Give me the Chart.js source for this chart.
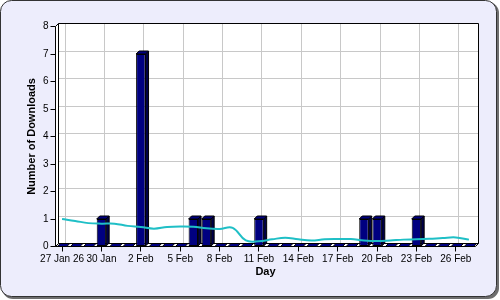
<!DOCTYPE html>
<html>
<head>
<meta charset="utf-8">
<script src="https://cdn.jsdelivr.net/npm/chart.js@4.4.1/dist/chart.umd.min.js"></script>
<style>
  html, body { margin: 0; padding: 0; background: #fff; }
  canvas { display: block; }
</style>
</head>
<body>
<canvas id="downloadsChart" width="500" height="300"></canvas>
<script>
// ===== DATA =====
const days = [
    '27 Jan', '28 Jan', '29 Jan', '30 Jan', '31 Jan',
    '1 Feb', '2 Feb', '3 Feb', '4 Feb', '5 Feb', '6 Feb', '7 Feb', '8 Feb', '9 Feb',
    '10 Feb', '11 Feb', '12 Feb', '13 Feb', '14 Feb', '15 Feb', '16 Feb', '17 Feb',
    '18 Feb', '19 Feb', '20 Feb', '21 Feb', '22 Feb', '23 Feb', '24 Feb', '25 Feb',
    '26 Feb', '27 Feb'
];
// shown on every 3rd day
const tickLabels = ['27 Jan 26', '30 Jan', '2 Feb', '5 Feb', '8 Feb', '11 Feb', '14 Feb', '17 Feb', '20 Feb', '23 Feb', '26 Feb'];
const downloads = [0, 0, 0, 1, 0, 0, 7, 0, 0, 0, 1, 1, 0, 0, 0, 1, 0, 0, 0, 0, 0, 0, 0, 1, 1, 0, 0, 1, 0, 0, 0, 0];
const trend = [1.0, 0.93, 0.85, 0.83, 0.83, 0.75, 0.71, 0.65, 0.71, 0.73, 0.72, 0.66, 0.64, 0.68, 0.22, 0.19,
               0.26, 0.32, 0.26, 0.22, 0.26, 0.27, 0.27, 0.22, 0.2, 0.22, 0.25, 0.26, 0.28, 0.31, 0.33, 0.25];
const yTicks = { min: 0, max: 8, step: 1 };

const DEPTH = 3;
const crisp = (v) => Math.round(v - 0.5) + 0.5;

// lavender rounded panel behind everything
const panelBg = {
    id: 'panelBg',
    beforeDraw(chart) {
        const ctx = chart.ctx;
        ctx.save();
        ctx.fillStyle = '#fff';
        ctx.fillRect(0, 0, chart.width, chart.height);
        ctx.beginPath();
        ctx.roundRect(2, 2, 497, 297, 11);
        ctx.fillStyle = '#6e6e6e';
        ctx.fill();
        ctx.beginPath();
        ctx.roundRect(0.5, 0.5, 496, 296, 11);
        ctx.fillStyle = '#ededfc';
        ctx.fill();
        ctx.strokeStyle = '#333';
        ctx.lineWidth = 1;
        ctx.stroke();
        ctx.restore();
    }
};

// 3D back wall, side wall and grid
const walls = {
    id: 'walls',
    beforeDatasetsDraw(chart) {
        const { ctx, chartArea: a, scales: { x, y } } = chart;
        const d = DEPTH;
        ctx.save();
        ctx.fillStyle = '#fff';
        ctx.beginPath();
        ctx.moveTo(a.left, a.bottom);
        ctx.lineTo(a.left, a.top);
        ctx.lineTo(a.left + d, a.top - d);
        ctx.lineTo(a.right + d, a.top - d);
        ctx.lineTo(a.right + d, a.bottom - d);
        ctx.lineTo(a.right, a.bottom);
        ctx.closePath();
        ctx.fill();

        // grid on back wall
        ctx.strokeStyle = '#c8c8c8';
        ctx.lineWidth = 1;
        ctx.beginPath();
        y.ticks.forEach((t, i) => {
            const py = crisp(y.getPixelForTick(i) - d);
            ctx.moveTo(a.left + d, py);
            ctx.lineTo(a.right + d, py);
        });
        x.ticks.forEach((t, i) => {
            if (i % 3) return;
            const px = crisp(x.getPixelForTick(i) + d);
            ctx.moveTo(px, a.top - d);
            ctx.lineTo(px, a.bottom - d);
        });
        ctx.stroke();

        // outline
        ctx.strokeStyle = '#000';
        ctx.beginPath();
        ctx.moveTo(a.left, a.bottom);
        ctx.lineTo(a.left, a.top);
        ctx.lineTo(a.left + d, a.top - d);
        ctx.lineTo(a.right + d, a.top - d);
        ctx.lineTo(a.right + d, a.bottom - d);
        ctx.lineTo(a.right, a.bottom);
        ctx.lineTo(a.left, a.bottom);
        ctx.moveTo(a.left + d, a.top - d);
        ctx.lineTo(a.left + d, a.bottom - d);
        ctx.lineTo(a.right + d, a.bottom - d);
        ctx.moveTo(a.left, a.bottom);
        ctx.lineTo(a.left + d, a.bottom - d);
        ctx.stroke();
        ctx.restore();
    }
};

// top + side faces for each bar
const barFaces = {
    id: 'barFaces',
    afterDatasetDraw(chart, args) {
        if (args.meta.type !== 'bar') return;
        const ctx = chart.ctx;
        const d = DEPTH;
        ctx.save();
        ctx.strokeStyle = '#000';
        ctx.lineWidth = 1;
        ctx.lineJoin = 'round';
        args.meta.data.forEach((bar) => {
            const { x, y, base, width } = bar.getProps(['x', 'y', 'base', 'width'], true);
            const l = x - width / 2, r = x + width / 2;
            if (base - y > 1) {
                ctx.beginPath();
                ctx.moveTo(r, y);
                ctx.lineTo(r + d, y - d);
                ctx.lineTo(r + d, base - d);
                ctx.lineTo(r, base);
                ctx.closePath();
                ctx.fillStyle = '#000048';
                ctx.fill();
                ctx.stroke();
            }
            ctx.beginPath();
            ctx.moveTo(l, y);
            ctx.lineTo(l + d, y - d);
            ctx.lineTo(r + d, y - d);
            ctx.lineTo(r, y);
            ctx.closePath();
            ctx.fillStyle = '#000080';
            ctx.fill();
            ctx.stroke();
        });
        ctx.restore();
    }
};

const tickFont = { family: 'Arial, "Liberation Sans", sans-serif', size: 10 };
const titleFont = { family: 'Arial, "Liberation Sans", sans-serif', size: 11, weight: 'bold' };

new Chart(document.getElementById('downloadsChart'), {
    data: {
        labels: days,
        datasets: [
            {
                type: 'line',
                label: 'Trend',
                data: trend,
                borderColor: '#1fbfc6',
                borderWidth: 2,
                tension: 0.4,
                pointRadius: 0,
                fill: false
            },
            {
                type: 'bar',
                label: 'Downloads',
                data: downloads,
                backgroundColor: '#000080',
                borderColor: '#000',
                borderWidth: 1,
                borderSkipped: false,
                barPercentage: 0.72,
                categoryPercentage: 1
            }
        ]
    },
    options: {
        responsive: false,
        animation: false,
        devicePixelRatio: 1,
        layout: { padding: { left: 0, right: 24.5, top: 26.5, bottom: 0 } },
        plugins: {
            legend: { display: false },
            tooltip: { enabled: false }
        },
        scales: {
            x: {
                type: 'category',
                offset: true,
                grid: {
                    offset: false,
                    drawOnChartArea: false,
                    drawTicks: true,
                    tickLength: 5,
                    tickColor: (c) => (c.index % 3 === 0 ? '#000' : 'rgba(0,0,0,0)')
                },
                border: { display: false },
                ticks: {
                    autoSkip: false,
                    maxRotation: 0,
                    minRotation: 0,
                    padding: 2,
                    color: '#000',
                    font: tickFont,
                    callback: (v, i) => (i % 3 === 0 ? tickLabels[i / 3] : '')
                },
                title: {
                    display: true,
                    text: 'Day',
                    color: '#000',
                    font: titleFont,
                    padding: { top: 0, bottom: 21 }
                },
                afterFit: (s) => { s.height = 53.5; }
            },
            y: {
                min: yTicks.min,
                max: yTicks.max,
                grid: {
                    drawOnChartArea: false,
                    drawTicks: true,
                    tickLength: 5,
                    tickColor: '#000'
                },
                border: { display: false },
                ticks: {
                    stepSize: yTicks.step,
                    padding: 2,
                    color: '#000',
                    font: tickFont
                },
                title: {
                    display: true,
                    text: 'Number of Downloads',
                    color: '#000',
                    font: titleFont,
                    padding: { top: 25, bottom: 0 }
                },
                afterFit: (s) => { s.width = 55.5; }
            }
        }
    },
    plugins: [panelBg, walls, barFaces]
});
</script>
</body>
</html>
